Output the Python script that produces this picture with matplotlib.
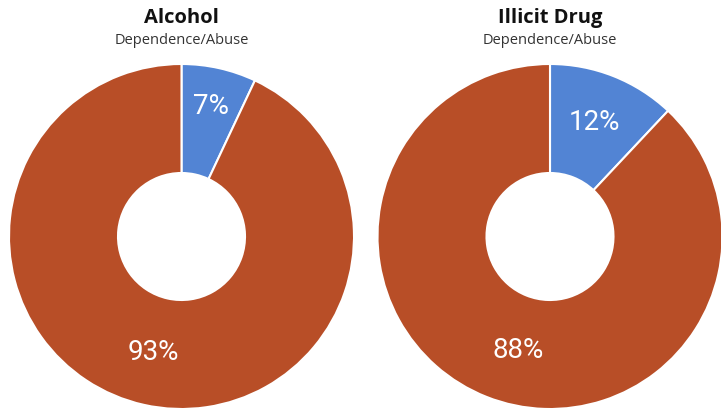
import matplotlib
matplotlib.use("Agg")
import matplotlib.pyplot as plt

titles = ["Alcohol", "Illicit Drug"]
subtitle = "Dependence/Abuse"
shares = [[7, 93], [12, 88]]
labels = [["7%", "93%"], ["12%", "88%"]]
colors = ["#5284D4", "#B84E27"]

W, H = 721, 409
fig = plt.figure(figsize=(W / 100, H / 100), dpi=100)
ax = fig.add_axes([0, 0, 1, 1])

centers = [(181.5, H - 236.5), (550.0, H - 236.5)]
R = 172.5
ring = 109
label_pos = [[(211, 106), (153, 353)], [(594, 123), (518, 351)]]

for i, (cx, cy) in enumerate(centers):
    ax.pie(shares[i], colors=colors, startangle=90, counterclock=False,
           center=(cx, cy), radius=R, frame=True,
           wedgeprops=dict(width=ring, edgecolor="white", linewidth=1.5))
    for lab, (lx, ly) in zip(labels[i], label_pos[i]):
        ax.text(lx, H - ly, lab, ha="center", va="center", color="white",
                fontsize=20, family="Roboto")
    ax.text(cx, H - 18, titles[i], ha="center", va="center",
            fontsize=14.5, fontweight="bold", family="Open Sans", color="#111111")
    ax.text(cx, H - 40, subtitle, ha="center", va="center",
            fontsize=10.5, family="Open Sans", color="#333333")

ax.set_xlim(0, W)
ax.set_ylim(0, H)
ax.set_aspect("equal")
ax.axis("off")
fig.savefig("out.png", dpi=100)
